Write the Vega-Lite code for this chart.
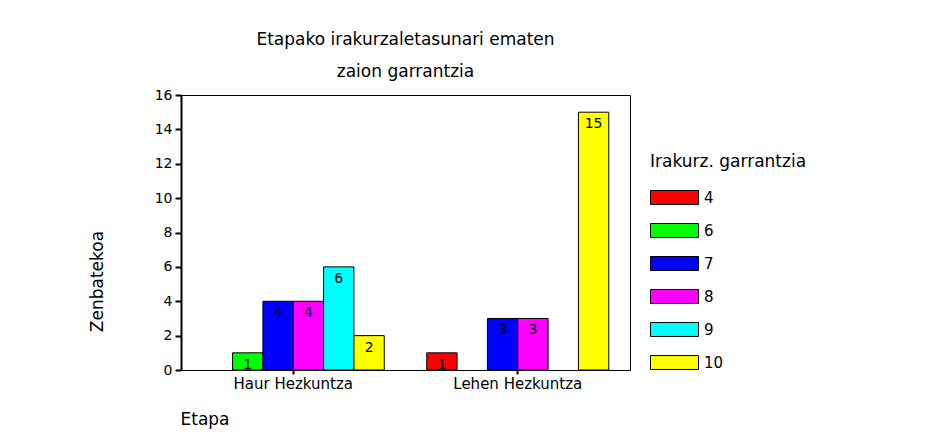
{
  "$schema": "https://vega.github.io/schema/vega-lite/v6.json",
  "width": 449,
  "height": 275,
  "autosize": {"type": "none"},
  "padding": {"left": 181, "top": 95, "right": 304, "bottom": 69},
  "background": "white",
  "title": {
    "text": ["Etapako irakurzaletasunari ematen", "zaion garrantzia"],
    "font": "DejaVu Sans",
    "fontSize": 17,
    "fontWeight": "normal",
    "lineHeight": 32,
    "anchor": "middle",
    "offset": 7,
    "color": "black"
  },
  "data": {
    "values": [
      {"Etapa": "Haur Hezkuntza", "garrantzia": "6", "Zenbatekoa": 1},
      {"Etapa": "Haur Hezkuntza", "garrantzia": "7", "Zenbatekoa": 4},
      {"Etapa": "Haur Hezkuntza", "garrantzia": "8", "Zenbatekoa": 4},
      {"Etapa": "Haur Hezkuntza", "garrantzia": "9", "Zenbatekoa": 6},
      {"Etapa": "Haur Hezkuntza", "garrantzia": "10", "Zenbatekoa": 2},
      {"Etapa": "Lehen Hezkuntza", "garrantzia": "4", "Zenbatekoa": 1},
      {"Etapa": "Lehen Hezkuntza", "garrantzia": "7", "Zenbatekoa": 3},
      {"Etapa": "Lehen Hezkuntza", "garrantzia": "8", "Zenbatekoa": 3},
      {"Etapa": "Lehen Hezkuntza", "garrantzia": "10", "Zenbatekoa": 15}
    ]
  },
  "encoding": {
    "x": {
      "field": "Etapa",
      "type": "nominal",
      "sort": ["Haur Hezkuntza", "Lehen Hezkuntza"],
      "scale": {"paddingInner": 0, "paddingOuter": 0},
      "axis": {
        "title": "Etapa",
        "labelAngle": 0,
        "tickSize": 4,
        "tickWidth": 2,
        "tickColor": "black",
        "domainColor": "black",
        "labelFont": "DejaVu Sans",
        "labelFontSize": 15,
        "labelColor": "black",
        "labelPadding": 2,
        "titleFont": "DejaVu Sans",
        "titleFontSize": 17,
        "titleFontWeight": "normal",
        "titleColor": "black",
        "titleAnchor": "start",
        "titleAlign": "left",
        "titleBaseline": "middle",
        "titleX": -1,
        "titleY": 49
      }
    },
    "xOffset": {
      "field": "garrantzia",
      "type": "nominal",
      "scale": {"domain": ["4", "6", "7", "8", "9", "10"], "paddingInner": 0, "paddingOuter": 0.7}
    },
    "y": {
      "field": "Zenbatekoa",
      "type": "quantitative",
      "scale": {"domain": [0, 16], "nice": false},
      "axis": {
        "title": "Zenbatekoa",
        "values": [0, 2, 4, 6, 8, 10, 12, 14, 16],
        "grid": false,
        "tickSize": 6,
        "tickWidth": 2,
        "tickColor": "black",
        "domainColor": "black",
        "domainWidth": 2,
        "labelFont": "DejaVu Sans",
        "labelFontSize": 14,
        "labelColor": "black",
        "labelPadding": 3,
        "titleFont": "DejaVu Sans",
        "titleFontSize": 17,
        "titleFontWeight": "normal",
        "titleColor": "black",
        "titleAngle": -90,
        "titleAlign": "center",
        "titleBaseline": "middle",
        "titleX": -84,
        "titleY": 186
      }
    }
  },
  "layer": [
    {
      "mark": {"type": "bar", "stroke": "black", "strokeWidth": 1, "opacity": 1},
      "encoding": {
        "color": {
          "field": "garrantzia",
          "type": "nominal",
          "scale": {
            "domain": ["4", "6", "7", "8", "9", "10"],
            "range": ["#ff0000", "#00ff00", "#0000ff", "#ff00ff", "#00ffff", "#ffff00"]
          },
          "legend": {
            "title": "Irakurz. garrantzia",
            "orient": "none",
            "legendX": 469,
            "legendY": 59,
            "symbolType": "M-1,-0.58L3,-0.58L3,0.58L-1,0.58Z",
            "symbolSize": 576,
            "symbolStrokeColor": "black",
            "symbolStrokeWidth": 1,
            "symbolOpacity": 1,
            "labelFont": "DejaVu Sans",
            "labelFontSize": 15,
            "labelColor": "black",
            "labelOffset": 29,
            "titleFont": "DejaVu Sans",
            "titleFontSize": 17,
            "titleFontWeight": "normal",
            "titleColor": "black",
            "titlePadding": 14,
            "rowPadding": 11
          }
        }
      }
    },
    {
      "mark": {"type": "text", "baseline": "top", "dy": 5, "font": "DejaVu Sans", "fontSize": 14, "color": "black"},
      "encoding": {
        "text": {"field": "Zenbatekoa", "type": "quantitative"}
      }
    }
  ],
  "config": {
    "view": {"stroke": "black", "strokeWidth": 1}
  }
}
